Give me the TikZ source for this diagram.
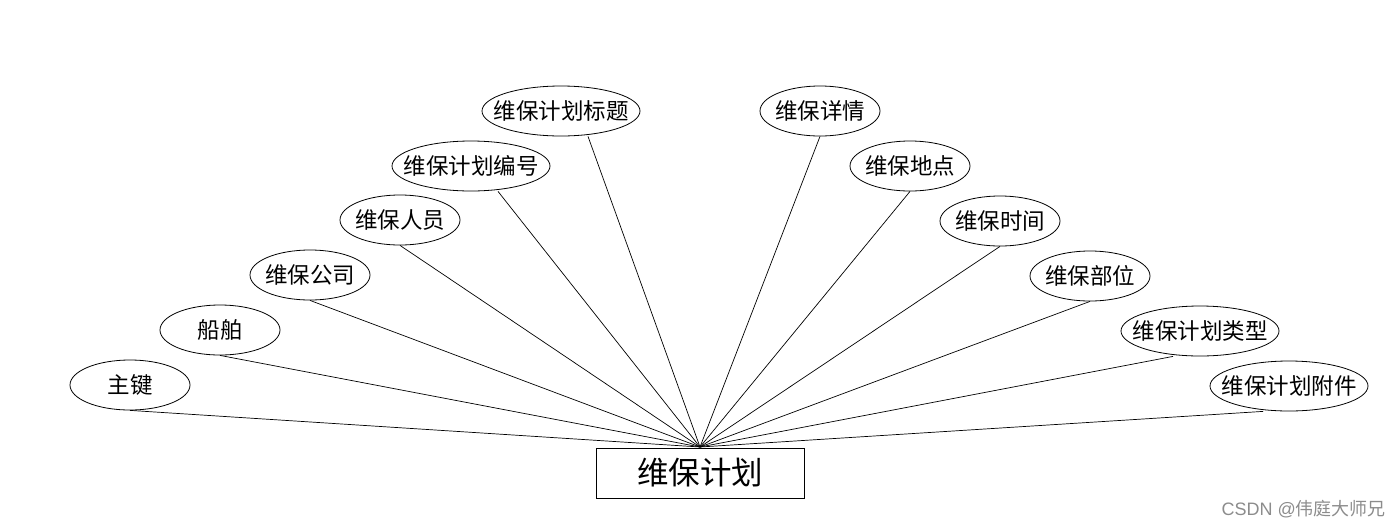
\documentclass[tikz,border=0pt]{standalone}
\usepackage{fontspec}
\setmainfont{Noto Sans CJK SC}
\setsansfont{Liberation Sans}
\usetikzlibrary{shapes.geometric}
\newcommand{\zt}[1]{\makebox[0pt]{#1}}
\begin{document}
\begin{tikzpicture}[x=1pt,y=-1pt,
  attr/.style={draw,ellipse,line width=0.8pt,inner sep=0pt,minimum width=120pt,minimum height=50pt,font=\fontsize{22.5}{24}\selectfont},
  wide/.style={attr,minimum width=158pt},
  entity/.style={draw,rectangle,line width=0.8pt,minimum width=208pt,minimum height=50pt,inner sep=0pt,font=\fontsize{31.5}{36}\selectfont},
  link/.style={line width=0.7pt}]
\useasboundingbox (0,0) rectangle (1400,528);
\node[entity] (c) at (700,473) {维保计划};
\node[attr] (a1) at (130,385) {\zt{主键}};
\node[attr] (a2) at (220,330) {\zt{船舶}};
\node[attr] (a3) at (310,275) {\zt{维保公司}};
\node[attr] (a4) at (400,220) {\zt{维保人员}};
\node[wide] (a5) at (471,166) {\zt{维保计划编号}};
\node[wide] (a6) at (561,111) {\zt{维保计划标题}};
\node[attr] (b1) at (820,111) {\zt{维保详情}};
\node[attr] (b2) at (910,166) {\zt{维保地点}};
\node[attr] (b3) at (1000,221) {\zt{维保时间}};
\node[attr] (b4) at (1090,276) {\zt{维保部位}};
\node[wide] (b5) at (1200,331) {\zt{维保计划类型}};
\node[wide] (b6) at (1289,386) {\zt{维保计划附件}};
\coordinate (top) at (700,447);
\foreach \n in {a1,a2,a3,a4,b1,b2,b3,b4}
  \draw[link] (\n.south) -- (top);
\draw[link] ([xshift=27pt]a5.south) -- (top);
\draw[link] ([xshift=27pt]a6.south) -- (top);
\draw[link] ([xshift=-27pt]b5.south) -- (top);
\draw[link] ([xshift=-26pt]b6.south) -- (top);
\node[anchor=east,text=black!45,font=\fontsize{18}{20}\selectfont,inner sep=0pt] (wm) at (1386,509) {\sffamily CSDN @\rmfamily 伟庭大师兄};
\end{tikzpicture}
\end{document}
